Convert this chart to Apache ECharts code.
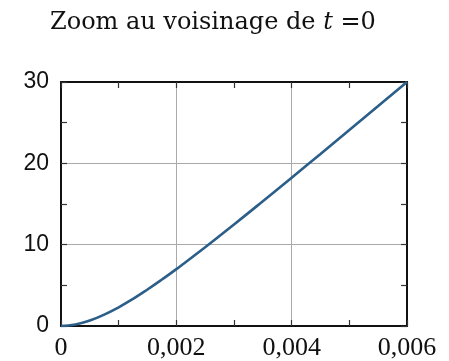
<!DOCTYPE html>
<html>
<head>
<meta charset="utf-8">
<script src="https://cdn.jsdelivr.net/npm/echarts@6/dist/echarts.min.js"></script>
<style>html,body{margin:0;padding:0;background:#fff}#c{width:449px;height:361px}</style>
</head>
<body>
<div id="c"></div>
<script>
var tValues = [0, 0.00025, 0.0005, 0.00075, 0.001, 0.00125, 0.0015, 0.00175, 0.002, 0.0025, 0.003, 0.0035, 0.004, 0.0045, 0.005, 0.0055, 0.006];
var yValues = [0, 0.18, 0.67, 1.40, 2.30, 3.34, 4.49, 5.71, 6.99, 9.68, 12.48, 15.34, 18.24, 21.16, 24.10, 27.04, 30];
var xTickLabels = ['0', '0,002', '0,004', '0,006'];
var yTickLabels = ['0', '10', '20', '30'];

var data = tValues.map(function (t, i) { return [t, yValues[i]]; });
var chart = echarts.init(document.getElementById('c'));

var frame = { show: true, onZero: false, lineStyle: { color: '#111', width: 2 } };
var tick = { show: true, inside: true, length: 6, lineStyle: { color: '#333', width: 1.2 } };
var minor = { show: true, splitNumber: 2, length: 6, lineStyle: { color: '#333', width: 1.2 } };

chart.setOption({
  animation: false,
  title: {
    text: 'Zoom au voisinage de {i|t} =0',
    left: 45,
    top: 6,
    textStyle: {
      fontFamily: 'DejaVu Serif', fontSize: 24, fontWeight: 'normal', color: '#111',
      rich: { i: { fontFamily: 'DejaVu Serif', fontStyle: 'italic', fontSize: 24, color: '#111' } }
    }
  },
  grid: { left: 61, right: 42, top: 82, bottom: 35 },
  xAxis: [{
    type: 'value', min: 0, max: 0.006, interval: 0.002, position: 'bottom',
    axisLine: frame, axisTick: tick, minorTick: minor,
    splitLine: { show: true, lineStyle: { color: '#aaa', width: 1 } },
    axisLabel: {
      margin: 9, fontFamily: 'Liberation Serif', fontSize: 26, color: '#111',
      formatter: function (v) { return xTickLabels[Math.round(v / 0.002)]; }
    }
  }, {
    type: 'value', min: 0, max: 0.006, interval: 0.002, position: 'top',
    axisLine: frame, axisTick: tick, minorTick: minor,
    splitLine: { show: false }, axisLabel: { show: false }
  }],
  yAxis: [{
    type: 'value', min: 0, max: 30, interval: 10, position: 'left',
    axisLine: frame, axisTick: tick, minorTick: minor,
    splitLine: { show: true, lineStyle: { color: '#aaa', width: 1 } },
    axisLabel: {
      margin: 12, fontFamily: 'Liberation Sans', fontSize: 23, color: '#111',
      formatter: function (v) { return yTickLabels[Math.round(v / 10)]; }
    }
  }, {
    type: 'value', min: 0, max: 30, interval: 10, position: 'right',
    axisLine: frame, axisTick: tick, minorTick: minor,
    splitLine: { show: false }, axisLabel: { show: false }
  }],
  series: [{
    type: 'line', data: data, showSymbol: false, smooth: true, clip: true,
    lineStyle: { color: '#2b5e88', width: 2.6 }
  }]
});
</script>
</body>
</html>
